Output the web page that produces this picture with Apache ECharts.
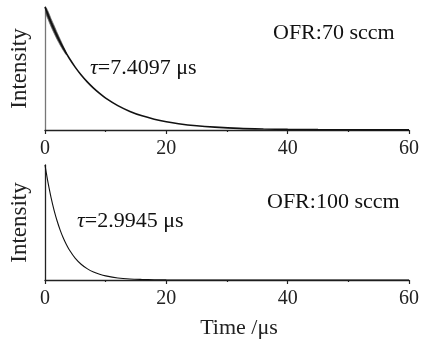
<!DOCTYPE html>
<html><head><meta charset="utf-8">
<script src="https://cdn.jsdelivr.net/npm/echarts@6/dist/echarts.min.js"></script>
<style>html,body{margin:0;padding:0;background:#fff}#c{width:422px;height:343px}</style>
</head><body><div id="c"></div>
<script>
// ---- data ----
const xTicks = [0, 20, 40, 60];
// Panel 1: OFR 70 sccm
const timeA = [0, 0.25, 0.5, 1, 1.5, 2, 3, 4, 5, 6, 7, 8, 9, 10, 12, 14, 16, 18, 20, 22, 25, 28, 32, 36, 40, 45, 50, 55, 60];
const intensityA = [1.0, 0.967, 0.935, 0.874, 0.817, 0.763, 0.667, 0.583, 0.509, 0.445, 0.389, 0.340, 0.297, 0.259, 0.198, 0.151, 0.115, 0.088, 0.067, 0.051, 0.034, 0.023, 0.013, 0.008, 0.005, 0.003, 0.002, 0.001, 0.001];
// noisy band at early times (panel 1)
const bandT = [0.15, 0.5, 1, 1.5, 2, 2.5, 3, 3.5];
const bandLow = [0.945, 0.900, 0.840, 0.786, 0.735, 0.690, 0.648, 0.612];
const bandHigh = [0.995, 0.965, 0.905, 0.850, 0.792, 0.738, 0.684, 0.630];
// Panel 2: OFR 100 sccm
const timeB = [0, 0.25, 0.5, 1, 1.5, 2, 2.5, 3, 3.5, 4, 5, 6, 7, 8, 9, 10, 12, 14, 16, 18, 20, 25, 30, 40, 50, 60];
const intensityB = [1.0, 0.920, 0.846, 0.716, 0.606, 0.513, 0.434, 0.367, 0.311, 0.263, 0.188, 0.135, 0.097, 0.069, 0.050, 0.036, 0.018, 0.009, 0.005, 0.0025, 0.001, 0.0002, 0, 0, 0, 0];
const labels = {
  a: 'OFR:70 sccm', tauA: '7.4097 μs',
  b: 'OFR:100 sccm', tauB: '2.9945 μs',
  y: 'Intensity', x: 'Time /μs'
};

const FONT = '"Liberation Serif", "DejaVu Serif", serif';
const pairs = (xs, ys) => xs.map((x, i) => [x, ys[i]]);

function xAxis(gi, name) {
  return {
    type: 'value', gridIndex: gi, min: 0, max: 60, interval: 20,
    axisLine: {lineStyle: {color: '#222', width: 1.3}},
    axisTick: {show: true, length: 4, lineStyle: {color: '#222', width: 1.2}},
    minorTick: {show: true, splitNumber: 2, length: 2, lineStyle: {color: '#222', width: 1.2}},
    splitLine: {show: false},
    axisLabel: {color: '#222', fontFamily: FONT, fontSize: 20, margin: 9,
      formatter: v => xTicks.includes(v) ? String(v) : ''},
    name: name || '', nameLocation: 'middle', nameGap: 37,
    nameTextStyle: {color: '#222', fontFamily: FONT, fontSize: 22, padding: [0, 0, 0, 24]}
  };
}
function yAxis(gi, color) {
  return {
    type: 'value', gridIndex: gi, min: 0, max: 1,
    axisLine: {show: true, lineStyle: {color: color, width: 1.3}},
    axisTick: {show: false}, axisLabel: {show: false}, splitLine: {show: false},
    name: labels.y, nameLocation: 'middle', nameRotate: 90, nameGap: 14,
    nameTextStyle: {color: '#222', fontFamily: FONT, fontSize: 23}
  };
}
const tStyle = (fs) => ({color: '#111', fontFamily: FONT, fontSize: fs, fontWeight: 'normal',
  rich: {i: {fontFamily: FONT, fontStyle: 'italic', fontSize: fs, color: '#111'},
         n: {fontFamily: FONT, fontSize: fs, color: '#111'}}});

const chart = echarts.init(document.getElementById('c'), null, {renderer: 'canvas'});
chart.setOption({
  animation: false,
  backgroundColor: '#fff',
  title: [
    {text: labels.a, left: 273, top: 22, padding: 0, textStyle: tStyle(22)},
    {text: '{i|τ}{n|=' + labels.tauA + '}', left: 90, top: 57, padding: 0, textStyle: tStyle(22)},
    {text: labels.b, left: 267, top: 191, padding: 0, textStyle: tStyle(22)},
    {text: '{i|τ}{n|=' + labels.tauB + '}', left: 77, top: 210, padding: 0, textStyle: tStyle(22)}
  ],
  grid: [
    {left: 44, width: 368, top: 7, height: 123},
    {left: 44, width: 368, top: 165, height: 115}
  ],
  xAxis: [xAxis(0), xAxis(1, labels.x)],
  yAxis: [yAxis(0, '#777'), yAxis(1, '#222')],
  series: [
    {type: 'custom', xAxisIndex: 0, yAxisIndex: 0, silent: true,
      data: [0],
      renderItem: function (params, api) {
        const pts = [];
        bandT.forEach((t, i) => pts.push(api.coord([t, bandHigh[i]])));
        for (let i = bandT.length - 1; i >= 0; i--) pts.push(api.coord([bandT[i], bandLow[i]]));
        return {type: 'polygon', shape: {points: pts, smooth: 0.3},
          style: {fill: '#444', stroke: '#555', lineWidth: 0.6}};
      }},
    {type: 'line', xAxisIndex: 0, yAxisIndex: 0, data: pairs(timeA, intensityA), smooth: 0.3,
      showSymbol: false, symbol: 'none', lineStyle: {width: 1.6, color: '#111'}},
    {type: 'line', xAxisIndex: 1, yAxisIndex: 1, data: pairs(timeB, intensityB), smooth: 0.3,
      showSymbol: false, symbol: 'none', lineStyle: {width: 1.1, color: '#111'}}
  ]
});
</script></body></html>
